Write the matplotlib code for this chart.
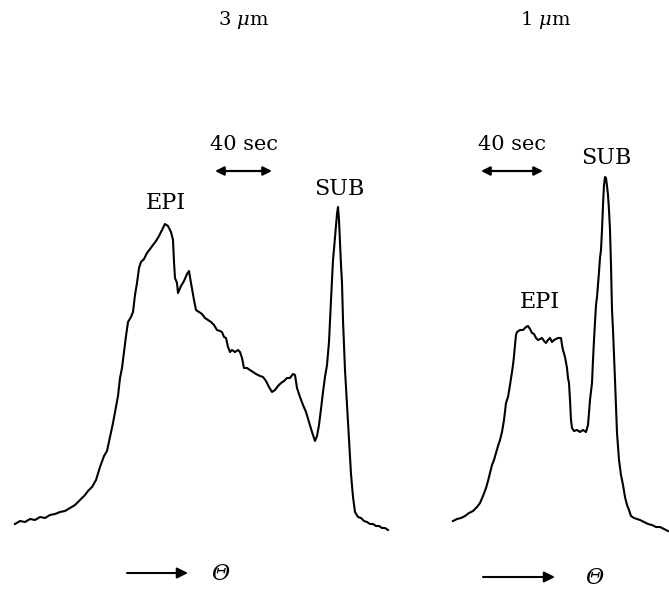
import matplotlib
matplotlib.use("Agg")
import matplotlib.pyplot as plt

plt.rcParams['mathtext.fontset'] = 'dejavuserif'

# ---- data (theta position, trace level; level axis inverted) ----
left_theta = [15, 20, 25, 30, 35, 40, 45, 50, 55, 60, 65, 70, 75, 80, 85, 88, 92, 96, 100, 104, 107, 110, 113,
              116, 118, 120, 122, 124, 126, 128, 131, 133, 135, 137, 139, 141, 144, 147, 150, 153, 156, 159, 162,
              165, 168, 171, 173, 174, 175, 177, 178, 181, 184, 187, 189, 191, 194, 196, 199, 202, 205, 208, 211,
              214, 217, 220, 222, 224, 226, 228, 230, 232, 235, 238, 240, 242, 244, 247, 250, 253, 256, 260, 263,
              266, 269, 272, 275, 278, 281, 284, 287, 290, 293, 295, 297, 300, 303, 306, 309, 312, 315, 317, 319,
              321, 323, 325, 327, 329, 330, 331, 332, 333, 334, 336, 337, 338, 339, 340, 341, 342, 343, 345, 347,
              349, 351, 353, 355, 358, 361, 364, 367, 370, 373, 376, 379, 382, 385, 388]
left_level = [524, 521, 522, 519, 520, 517, 518, 515, 514, 512, 511, 508, 505, 500, 495, 491, 487, 480, 467, 456,
              451, 437, 423, 407, 396, 378, 368, 352, 336, 322, 317, 312, 295, 283, 268, 262, 259, 253, 249, 245,
              241, 236, 230, 224, 226, 232, 240, 262, 278, 283, 293, 286, 281, 274, 271, 283, 300, 310, 312, 314,
              318, 320, 322, 325, 330, 331, 332, 337, 338, 347, 352, 350, 352, 350, 352, 358, 368, 368, 370, 372,
              374, 376, 377, 381, 387, 392, 390, 386, 383, 381, 378, 378, 374, 375, 388, 397, 405, 412, 422, 432,
              441, 436, 425, 409, 392, 377, 365, 342, 320, 300, 280, 260, 249, 225, 214, 207, 220, 243, 265, 283,
              320, 370, 405, 440, 474, 497, 512, 517, 518, 521, 522, 524, 524, 526, 526, 528, 528, 530]

right_theta = [453, 457, 461, 465, 469, 473, 477, 480, 483, 486, 488, 490, 492, 494, 496, 498, 500, 502, 504, 506,
               508, 510, 512, 513, 514, 515, 516, 517, 520, 523, 526, 528, 530, 532, 534, 536, 538, 540, 542, 544,
               546, 548, 550, 552, 554, 556, 558, 561, 562, 563, 565, 567, 568, 569, 570, 571, 572, 574, 577, 580,
               583, 586, 588, 590, 592, 593, 594, 596, 597, 599, 600, 601, 602, 603, 604, 605, 606, 607, 608, 609,
               610, 611, 612, 613, 615, 617, 619, 621, 623, 625, 627, 629, 631, 634, 637, 640, 644, 648, 652, 656,
               660, 664, 668]
right_level = [521, 519, 518, 516, 513, 511, 507, 503, 496, 488, 481, 473, 465, 460, 453, 446, 440, 432, 420, 403,
               397, 385, 372, 365, 356, 345, 335, 332, 330, 330, 327, 326, 329, 333, 334, 338, 340, 339, 338, 341,
               343, 340, 338, 342, 340, 339, 338, 338, 345, 350, 357, 368, 378, 383, 400, 420, 428, 431, 430, 432,
               430, 432, 425, 400, 383, 360, 340, 305, 297, 272, 258, 250, 230, 205, 185, 177, 178, 186, 195, 210,
               230, 265, 310, 330, 380, 433, 460, 475, 485, 497, 505, 510, 516, 518, 519, 520, 522, 524, 525, 527,
               527, 529, 531]

panel_titles = ["3 $\\mathit{\\mu}$m", "1 $\\mathit{\\mu}$m"]
peak_labels = ["EPI", "SUB"]
scale_label = "40 sec"
axis_label = "\u0398"

# ---- figure ----
fig = plt.figure(figsize=(6.69, 5.94), dpi=100)
ax = fig.add_axes([0, 0, 1, 1])
ax.set_xlim(0, 669)
ax.set_ylim(594, 0)
ax.axis('off')

ax.plot(left_theta, left_level, color='black', lw=1.5, solid_joinstyle='round')
ax.plot(right_theta, right_level, color='black', lw=1.5, solid_joinstyle='round')

serif = 'DejaVu Serif'
ax.text(244, 20, panel_titles[0], ha='center', va='center', fontsize=14, family=serif)
ax.text(546, 20, panel_titles[1], ha='center', va='center', fontsize=14, family=serif)

# scale bars
ax.text(244, 144, scale_label, ha='center', va='center', fontsize=15, family=serif)
ax.text(512, 144, scale_label, ha='center', va='center', fontsize=15, family=serif)
for x0, x1, y in [(215, 272, 171), (481, 543, 171)]:
    ax.annotate('', xy=(x1, y), xytext=(x0, y),
                arrowprops=dict(arrowstyle='<|-|>', color='black', lw=1.6,
                                mutation_scale=13, shrinkA=0, shrinkB=0))

# peak labels
ax.text(166, 203, peak_labels[0], ha='center', va='center', fontsize=16, family=serif)
ax.text(339, 189, peak_labels[1], ha='center', va='center', fontsize=16, family=serif)
ax.text(540, 302, peak_labels[0], ha='center', va='center', fontsize=16, family=serif)
ax.text(606, 158, peak_labels[1], ha='center', va='center', fontsize=16, family=serif)

# theta axis indicators
for x0, x1, y, xt in [(127, 188, 573, 220), (483, 555, 577, 594)]:
    ax.annotate('', xy=(x1, y), xytext=(x0, y),
                arrowprops=dict(arrowstyle='-|>', color='black', lw=1.5,
                                mutation_scale=16, shrinkA=0, shrinkB=0))
    ax.text(xt, y + 1, axis_label, ha='center', va='center', fontsize=16,
            family=serif, style='italic')

fig.savefig('out.png', dpi=100)
